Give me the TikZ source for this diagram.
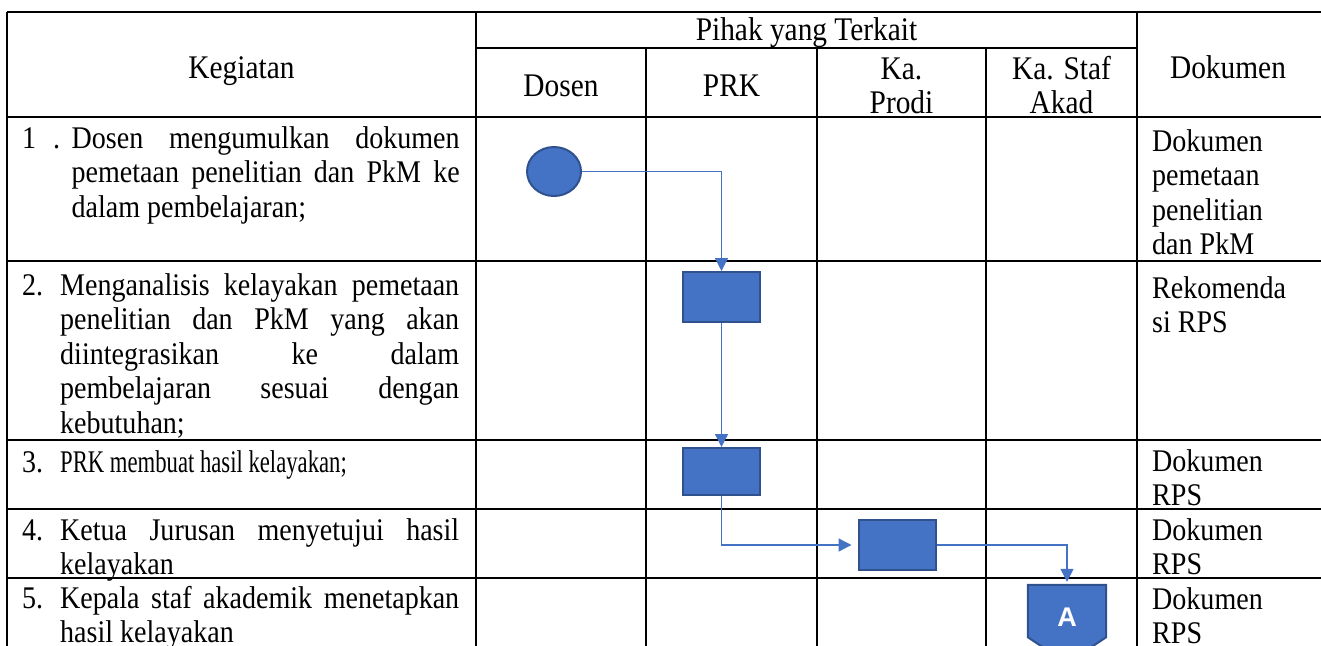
\documentclass[tikz,border=0pt]{standalone}
\usepackage{fontspec}
\setmainfont{Liberation Serif}[FakeStretch=0.89]
\newfontfamily\narrowserif{Liberation Serif}[FakeStretch=0.72]
\newfontfamily\afont{Liberation Sans}
\usetikzlibrary{arrows.meta,shapes.geometric}
\definecolor{bfill}{HTML}{4472C4}
\definecolor{bdraw}{HTML}{2F528F}
\definecolor{cline}{HTML}{4472C4}
\newcommand\jline[2]{\makebox[#1][s]{\spaceskip=0pt\xspaceskip=0pt\relax #2}}
\begin{document}
\begin{tikzpicture}[x=1pt,y=-1pt,
  tline/.style={line width=2pt, black},
  txt/.style={font=\fontsize{31.5}{34.5}\selectfont, inner sep=0pt},
  hd/.style={font=\fontsize{33}{34.5}\selectfont, inner sep=0pt, anchor=base},
  kg/.style={txt, anchor=base west, text width=399pt, align=flush left},
  numlbl/.style={txt, anchor=base west},
  dok/.style={txt, anchor=base west, text width=165pt, align=flush left},
  proc/.style={draw=bdraw, fill=bfill, line width=2pt, minimum width=77pt, minimum height=50pt, inner sep=0pt},
  conn/.style={draw=cline, line width=1.3pt, -{Triangle[length=13pt,width=13pt]}},
]
\useasboundingbox (0,0) rectangle (1321,645);
% table grid
\draw[tline] (7,12) -- (1330,12);
\draw[tline] (476,48) -- (1137,48);
\draw[tline] (7,117) -- (1330,117);
\draw[tline] (7,261) -- (1330,261);
\draw[tline] (7,440) -- (1330,440);
\draw[tline] (7,509) -- (1330,509);
\draw[tline] (7,578) -- (1330,578);
\draw[tline] (7,12) -- (7,660);
\draw[tline] (476,12) -- (476,660);
\draw[tline] (646,48) -- (646,660);
\draw[tline] (817,48) -- (817,660);
\draw[tline] (986,48) -- (986,660);
\draw[tline] (1137,12) -- (1137,660);
% headers
\node[hd] (hpihak) at (806.5,40) {Pihak yang Terkait};
\node[hd] (hkeg) at (241.5,78) {Kegiatan};
\node[hd] (hdok) at (1228,78) {Dokumen};
\node[hd] (hdosen) at (561,96) {Dosen};
\node[hd] (hprk) at (731.5,96) {PRK};
\node[hd, text width=150pt, align=flush center] (hprodi) at (901.5,79) {Ka.\\Prodi};
\node[hd, text width=150pt, align=flush center] (hstaf) at (1061.5,79) {Ka. Staf\\Akad};
% kegiatan
\node[numlbl] (n1) at (22,148) {1\hspace{17pt}.};
\node[kg, text width=388pt] (k1) at (71.5,148) {\jline{388pt}{Dosen mengumulkan dokumen}\\\jline{388pt}{pemetaan penelitian dan PkM ke}\\dalam pembelajaran;};
\node[numlbl] (n2) at (22,295) {2.};
\node[kg] (k2) at (60,295) {\jline{399pt}{Menganalisis kelayakan pemetaan}\\\jline{399pt}{penelitian dan PkM yang akan}\\\jline{399pt}{diintegrasikan ke dalam}\\\jline{399pt}{pembelajaran sesuai dengan}\\kebutuhan;};
\node[numlbl] (n3) at (22,472) {3.};
\node[kg] (k3) at (60,472) {{\narrowserif PRK membuat hasil kelayakan;}};
\node[numlbl] (n4) at (22,540) {4.};
\node[kg] (k4) at (60,540) {\jline{399pt}{Ketua Jurusan menyetujui hasil}\\kelayakan};
\node[numlbl] (n5) at (22,608) {5.};
\node[kg] (k5) at (60,608) {\jline{399pt}{Kepala staf akademik menetapkan}\\hasil kelayakan};
% dokumen
\node[dok] (d1) at (1152,151) {Dokumen\\pemetaan\\penelitian\\dan PkM};
\node[dok] (d2) at (1152,298) {Rekomenda\\si RPS};
\node[dok] (d3) at (1152,471) {Dokumen\\RPS};
\node[dok] (d4) at (1152,540) {Dokumen\\RPS};
\node[dok] (d5) at (1152,609) {Dokumen\\RPS};
% flow shapes
\node[ellipse, draw=bdraw, fill=bfill, line width=2pt, minimum width=54pt, minimum height=49pt, inner sep=0pt] (start) at (554,171.5) {};
\node[proc] (box2) at (721.5,297) {};
\node[proc, minimum height=47pt] (box3) at (721.5,471.5) {};
\node[proc] (box4) at (897,545) {};
\node[minimum width=78pt, minimum height=78pt, inner sep=0pt] (offp) at (1067,624) {};
\draw[draw=bdraw, fill=bfill, line width=2pt] (offp.north west) -- (offp.north east) -- ([yshift=26pt]offp.south east) -- (offp.south) -- ([yshift=26pt]offp.south west) -- cycle;
\node[font=\afont\bfseries\fontsize{27}{30}\selectfont, text=white, inner sep=0pt] (alabel) at (1067,617) {A};
% connectors
\draw[conn] (start.east) -| (box2.north);
\draw[conn] (box2.south) -- (box3.north);
\draw[conn, shorten >=6pt] (box3.south) |- (box4.west);
\draw[conn, shorten >=3pt] (box4.east) -| (offp.north);
\end{tikzpicture}
\end{document}
